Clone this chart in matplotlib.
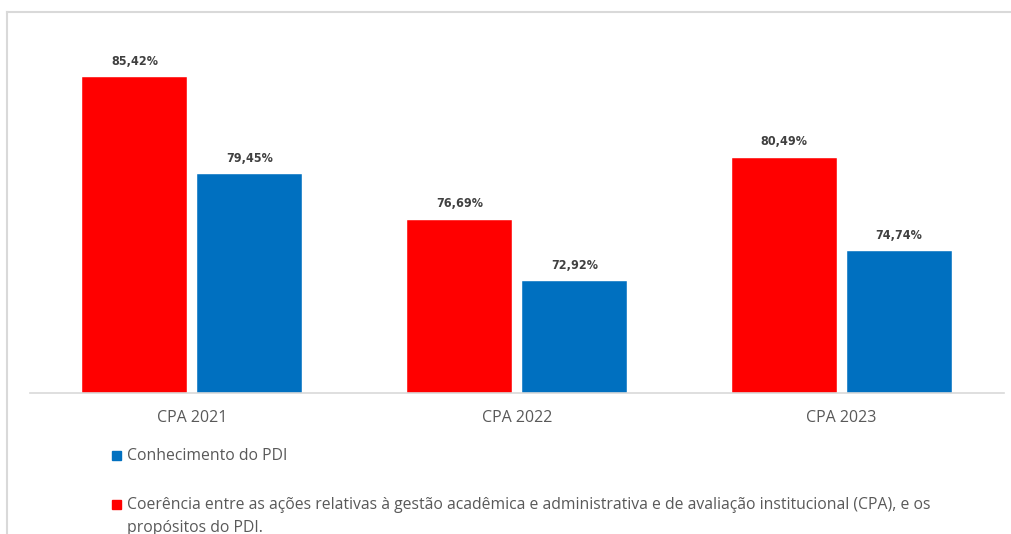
import matplotlib
matplotlib.use("Agg")
import matplotlib.pyplot as plt
from matplotlib.patches import Rectangle
from matplotlib.lines import Line2D
import numpy as np

categories = ["CPA 2021", "CPA 2022", "CPA 2023"]
coerencia = [85.42, 76.69, 80.49]
conhecimento = [79.45, 72.92, 74.74]
label_coerencia = ("Coerência entre as ações relativas à gestão acadêmica e administrativa e de avaliação institucional (CPA), e os\n"
                   "propósitos do PDI.")
label_conhecimento = "Conhecimento do PDI"

RED = "#FF0000"
BLUE = "#0070C0"
GREY = "#595959"

W, H = 1011, 534
fig = plt.figure(figsize=(W / 100, H / 100), dpi=100)

def fx(px):
    return px / W

def fy(py):
    return 1 - py / H

# chart border (left & top visible)
fig.add_artist(Line2D([fx(7), fx(7)], [fy(12), fy(540)], transform=fig.transFigure,
                      color="#d9d9d9", linewidth=1.5))
fig.add_artist(Line2D([fx(7), fx(1015)], [fy(12), fy(12)], transform=fig.transFigure,
                      color="#d9d9d9", linewidth=1.5))

ax = fig.add_axes([fx(30), fy(393), fx(1004) - fx(30), fy(40) - fy(393)])
ax.patch.set_visible(False)
x = np.arange(len(categories))
bw = 0.323
off = 0.177
ax.bar(x - off, coerencia, bw, color=RED, edgecolor="white", linewidth=0.3)
ax.bar(x + off, conhecimento, bw, color=BLUE, edgecolor="white", linewidth=0.3)
ax.set_xlim(-0.5, 2.5)
ax.set_ylim(66.06, 66.06 + (393 - 40) / 16.32)

label_font = dict(family="DejaVu Sans", fontstretch="condensed",
                  fontweight="bold", fontsize=9, color="#404040")
for xi, v in zip(x - off, coerencia):
    ax.annotate(f"{v:.2f}%".replace(".", ","), (xi, v), xytext=(0, 6.5),
                textcoords="offset points", ha="center", va="bottom", **label_font)
for xi, v in zip(x + off, conhecimento):
    ax.annotate(f"{v:.2f}%".replace(".", ","), (xi, v), xytext=(0, 6.5),
                textcoords="offset points", ha="center", va="bottom", **label_font)

for s in ["top", "right", "left"]:
    ax.spines[s].set_visible(False)
ax.spines["bottom"].set_color("#d9d9d9")
ax.spines["bottom"].set_linewidth(1.2)
ax.set_yticks([])
ax.set_xticks(x)
ax.set_xticklabels(categories, fontsize=11.5, color=GREY, family="Open Sans")
ax.tick_params(axis="x", length=0, pad=12)

# legend
leg_font = dict(fontsize=11.3, color=GREY, family="Open Sans")
fig.add_artist(Rectangle((fx(112), fy(460)), fx(9), fy(451) - fy(460),
                         transform=fig.transFigure, color=BLUE))
fig.text(fx(127), fy(456), label_conhecimento, va="center", ha="left", **leg_font)
fig.add_artist(Rectangle((fx(112), fy(509)), fx(9), fy(500) - fy(509),
                         transform=fig.transFigure, color=RED))
fig.text(fx(127), fy(497), label_coerencia, va="top", ha="left", linespacing=1.6, **leg_font)

# keep the right edge clean (no right border in the reference)
fig.add_artist(Rectangle((fx(1006), 0), fx(10), fy(14), transform=fig.transFigure,
                         facecolor="white", edgecolor="none", zorder=10))

fig.savefig("out.png", dpi=100)
